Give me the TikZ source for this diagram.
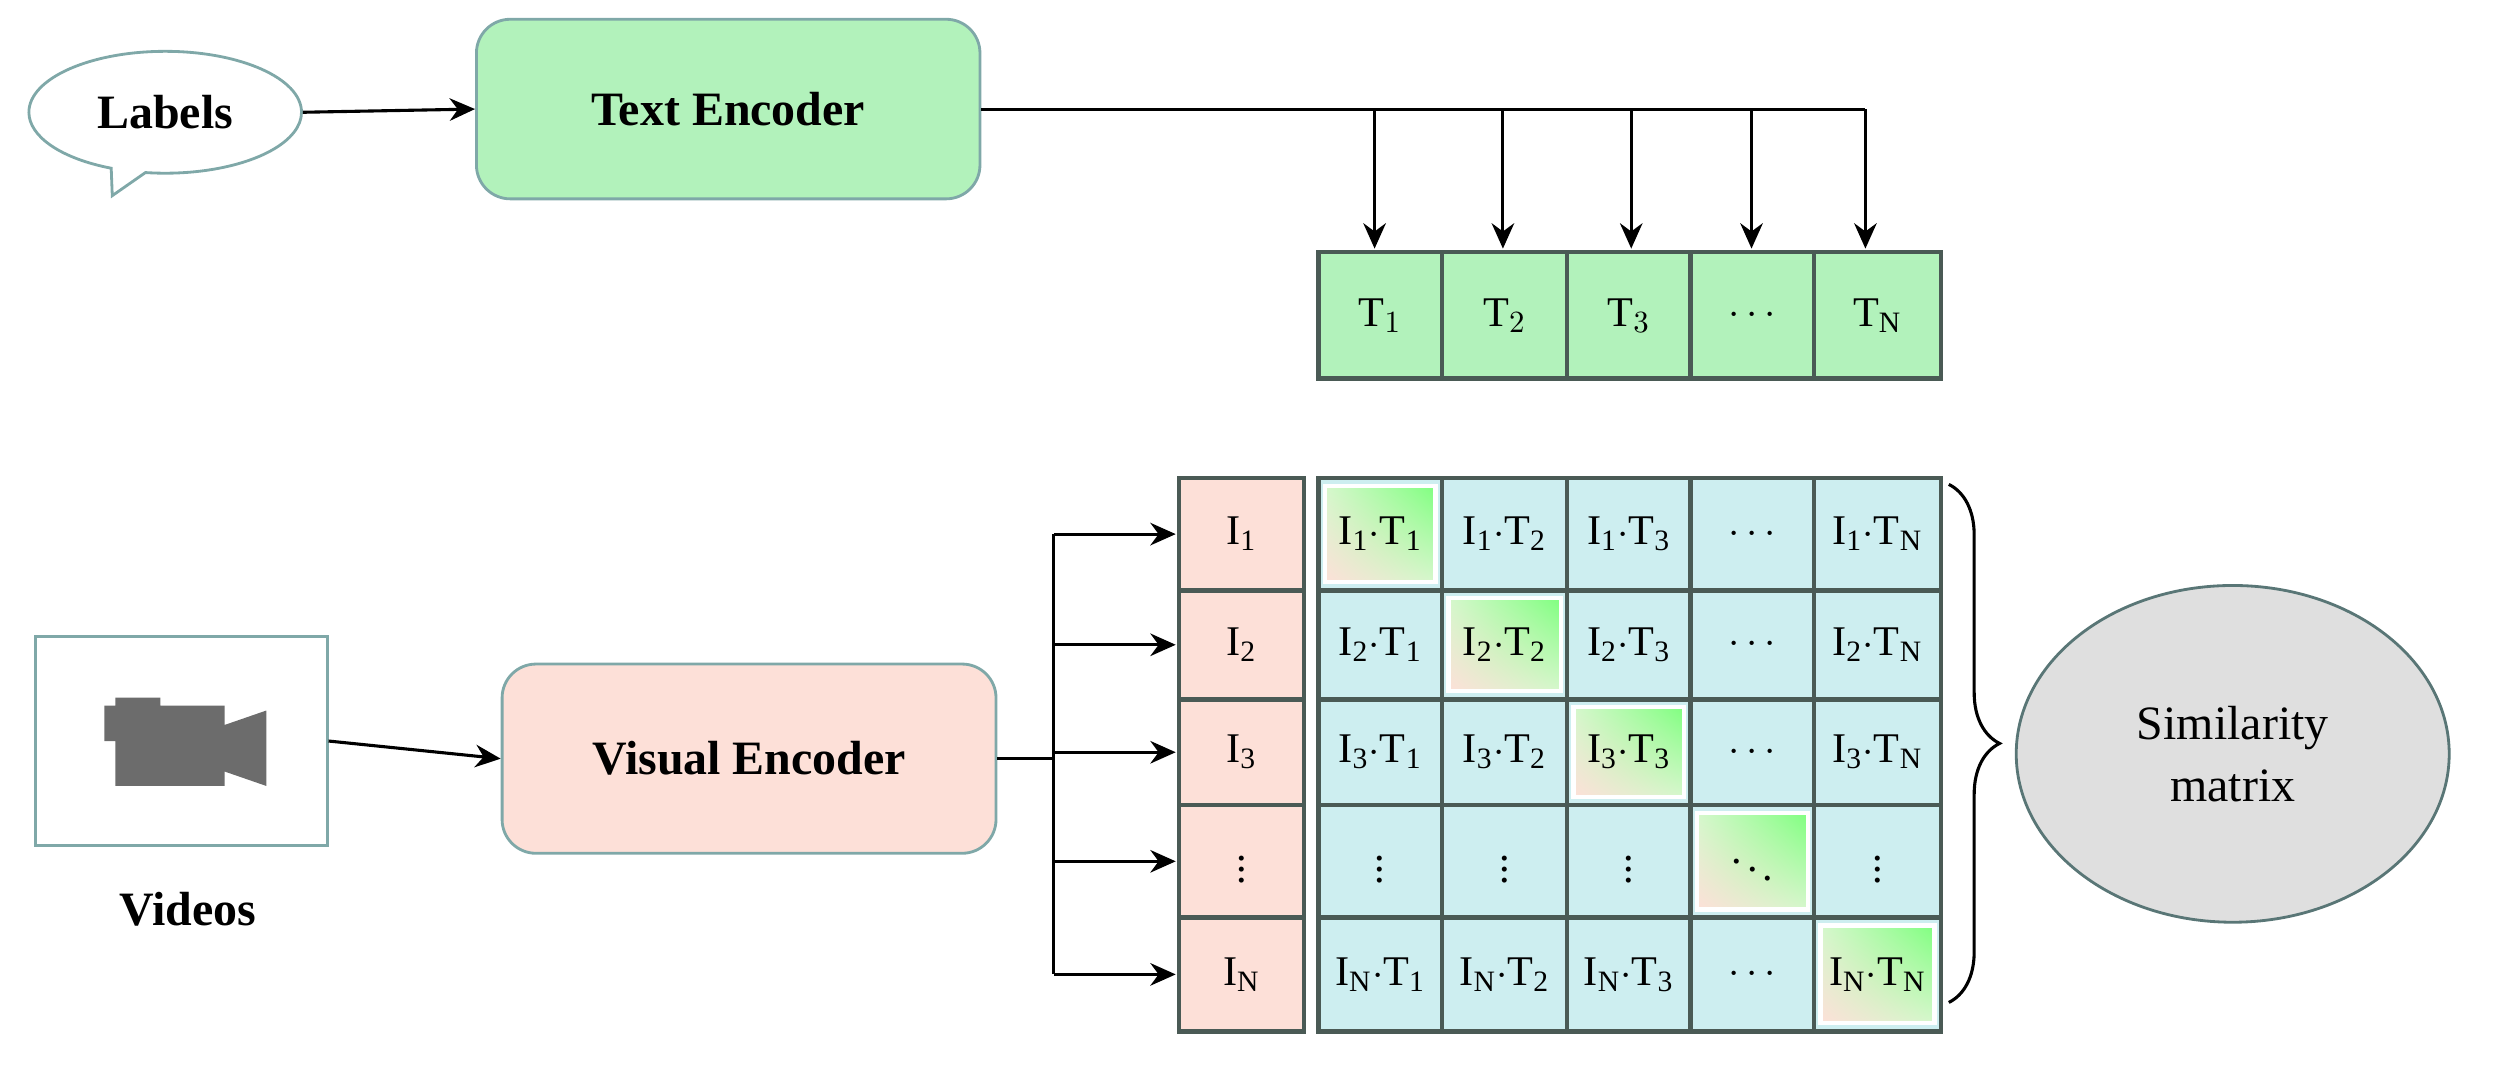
\documentclass[tikz,border=0pt]{standalone}
\usepackage{fontspec}
\setmainfont{Liberation Serif}
\usetikzlibrary{shapes.callouts,shapes.geometric,shadings,decorations.pathreplacing,arrows.meta}
\definecolor{gfill}{HTML}{B2F2BB}
\definecolor{pfill}{HTML}{FDE0D8}
\definecolor{cfill}{HTML}{CDEEF0}
\definecolor{bord}{HTML}{7FA8A8}
\definecolor{cellb}{HTML}{4A5A55}
\tikzset{
 enc/.style={draw=bord,line width=1pt,rounded corners=12pt,font=\bfseries\fontsize{17}{20}\selectfont},
 arr/.style={-{Stealth[length=9pt,width=8pt]},line width=1.1pt},
 cell/.style={draw=cellb,line width=1.6pt},
 ct/.style={font=\fontsize{15}{18}\selectfont,inner sep=0pt}
}
\begin{document}
\begin{tikzpicture}[x=0.02cm,y=-0.02cm]
\useasboundingbox (0,0) rectangle (1568,668);
% Labels bubble
\node[ellipse callout,draw=bord,line width=1pt,minimum width=3.4cm,minimum height=1.52cm,callout absolute pointer={(70,122)},font=\bfseries\fontsize{17}{20}\selectfont] (lab) at (103,70) {Labels};
\node[enc,fill=gfill,minimum width=6.28cm,minimum height=2.24cm] (te) at (454,68) {Text Encoder};
\draw[arr] (lab.east) -- (te.west);
% T row
\def\xs{{822,899,977,1054,1131,1210}}
\foreach \i/\t in {0/T$_1$,1/T$_2$,2/T$_3$,3/$\cdots$,4/T$_{\mathrm N}$}{
 \pgfmathsetmacro\xa{\xs[\i]}\pgfmathsetmacro\xb{\xs[\i+1]}
 \draw[cell,fill=gfill] (\xa,157) rectangle (\xb,236);
 \node[ct] (t\i) at ({(\xa+\xb)/2},197) {\t};
}
\coordinate (tr) at (1163,68);
\draw[line width=1.1pt] (te.east) -- (tr);
\foreach \x/\i in {857/0,937/1,1017/2,1092/3,1163/4}{
 \coordinate (d\i) at (\x,68);
 \draw[arr] (d\i) -- (\x,155);
}
% Videos
\node[draw=bord,line width=1pt,minimum width=3.64cm,minimum height=2.6cm] (vid) at (113,462) {};
\fill[gray!85!black] (65,440) -- (72,440) -- (72,435) -- (100,435) -- (100,440) -- (140,440) -- (140,452) -- (166,443) -- (166,490) -- (140,481) -- (140,490) -- (72,490) -- (72,462) -- (65,462) -- cycle;
\node[font=\bfseries\fontsize{17}{20}\selectfont] (vt) at (117,567) {Videos};
\node[enc,fill=pfill,minimum width=6.16cm,minimum height=2.36cm] (ve) at (467,473) {Visual Encoder};
\draw[arr] (vid.east) -- (ve.west);
% I column and matrix
\def\ys{{298,368,436,502,572,643}}
\draw[cell,fill=pfill] (735,298) rectangle (813,643);
\fill[cfill] (822,298) rectangle (1210,643);
\foreach \r/\lab in {0/1,1/2,2/3,3/x,4/N}{
 \pgfmathsetmacro\ya{\ys[\r]}\pgfmathsetmacro\yb{\ys[\r+1]}
 \draw[cell] (735,\ya) rectangle (813,\yb);
 \ifnum\r=3
   \node[ct] (i\r) at (774,{(\ya+\yb)/2}) {$\vdots$};
 \else
   \node[ct] (i\r) at (774,{(\ya+\yb)/2}) {I$_{\mathrm{\lab}}$};
 \fi
 \foreach \c/\cl in {0/1,1/2,2/3,3/x,4/N}{
  \pgfmathsetmacro\xa{\xs[\c]}\pgfmathsetmacro\xb{\xs[\c+1]}
  \ifnum\r=\c
   \shade[upper left=pfill!60!green!40,upper right=green!50,lower left=pfill,lower right=pfill!60!green!40] (\xa+4,\ya+5) rectangle (\xb-4,\yb-5);
   \draw[white,line width=1.5pt] (\xa+4,\ya+5) rectangle (\xb-4,\yb-5);
  \fi
  \draw[cell] (\xa,\ya) rectangle (\xb,\yb);
  \ifnum\r=3
    \ifnum\c=3 \node[ct] at ({(\xa+\xb)/2},{(\ya+\yb)/2}) {$\ddots$};
    \else \node[ct] at ({(\xa+\xb)/2},{(\ya+\yb)/2}) {$\vdots$};\fi
  \else
    \ifnum\c=3 \node[ct] at ({(\xa+\xb)/2},{(\ya+\yb)/2}) {$\cdots$};
    \else \node[ct] at ({(\xa+\xb)/2},{(\ya+\yb)/2}) {I$_{\mathrm{\lab}}$$\cdot$T$_{\mathrm{\cl}}$};\fi
  \fi
 }
}
% fan arrows
\coordinate (vj) at (657,473);
\draw[line width=1.1pt] (ve.east) -- (vj);
\draw[line width=1.1pt] (657,333) -- (657,607);
\foreach \r in {0,...,4}{\draw[arr] (657,0 |- i\r) -- (i\r.center -| 733,0);}
% brace + ellipse
\node[ellipse,draw=bord!70!black,line width=1pt,fill=gray!25,minimum width=5.4cm,minimum height=4.2cm,align=center,font=\fontsize{17}{22}\selectfont] (sim) at (1392,470) {Similarity\\matrix};
\draw[line width=1.1pt,decorate,decoration={brace,amplitude=18}] (1215,302) -- (1215,625);
\end{tikzpicture}
\end{document}
